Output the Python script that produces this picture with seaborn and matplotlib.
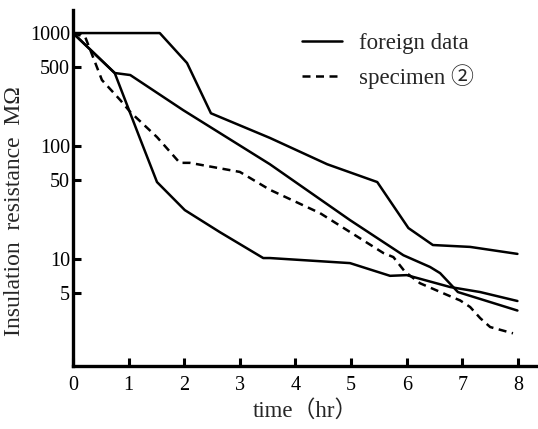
import numpy as np
import pandas as pd
import seaborn as sns
import matplotlib.pyplot as plt

# Curves (time in hr, resistance in MOhm)
foreign_a_time = [0, 1.56, 2.05, 2.48, 3.54, 4.57, 5.47, 6.03, 6.47, 7.14, 7.99]
foreign_a_res = [1000, 1000, 543, 195, 118, 69, 48, 18.8, 13.3, 12.8, 11.1]

foreign_b_time = [0, 0.75, 1.03, 1.98, 3.54, 4.98, 5.94, 6.42, 6.60, 6.92, 7.99]
foreign_b_res = [1000, 443, 425, 208, 69, 22.1, 10.8, 8.5, 7.5, 5.1, 3.5]

foreign_c_time = [0, 0.75, 1.20, 1.51, 2.01, 2.64, 3.42, 3.54, 4.98, 5.70, 6.0, 6.78, 7.32, 7.99]
foreign_c_res = [1000, 443, 118, 48, 27.1, 17.3, 10.2, 10.2, 9.2, 7.1, 7.2, 5.65, 5.1, 4.25]

specimen_time = [0, 0.22, 0.36, 0.52, 0.85, 1.03, 1.51, 1.92, 2.10, 3.0, 3.54, 4.44,
                 5.58, 5.76, 5.97, 6.24, 6.73, 6.96, 7.14, 7.32, 7.50, 7.91]
specimen_res = [1000, 922, 613, 384, 255, 200, 120, 71, 71, 59, 41, 25.5,
                11.3, 10.4, 7.7, 6.1, 4.8, 4.3, 3.76, 3.0, 2.5, 2.2]

x_ticks = [0, 1, 2, 3, 4, 5, 6, 7, 8]
y_ticks = [5, 10, 50, 100, 500, 1000]
y_tick_labels = ['5', '10', '50', '100', '500', '1000']

kind_foreign = 'foreign data'
kind_specimen = 'specimen ②'

# Build long table
frames = []
for name, t, r, kind in [
    ('a', foreign_a_time, foreign_a_res, kind_foreign),
    ('b', foreign_b_time, foreign_b_res, kind_foreign),
    ('c', foreign_c_time, foreign_c_res, kind_foreign),
    ('d', specimen_time, specimen_res, kind_specimen),
]:
    frames.append(pd.DataFrame({'time': t, 'res': r, 'curve': name, 'kind': kind}))
df = pd.concat(frames, ignore_index=True)

sns.set_style("white")
plt.rcParams['font.family'] = ['Liberation Serif', 'Noto Sans CJK SC', 'DejaVu Sans']

fig = plt.figure(figsize=(5.38, 4.29), dpi=100)
ax = fig.add_axes([73 / 538, 63 / 429, 1 - 73 / 538, (366 - 10) / 429])

sns.lineplot(
    data=df, x='time', y='res', units='curve', estimator=None,
    style='kind', dashes={kind_foreign: '', kind_specimen: (3.2, 2.2)},
    color='black', linewidth=1.8, sort=False, ax=ax
)

ax.set_yscale('log')
ax.set_xlim(0, 8.36)
ax.set_ylim(1.13, 1600)
ax.set_xticks(x_ticks)
ax.set_xticklabels([str(v) for v in x_ticks])
ax.set_yticks(y_ticks)
ax.set_yticklabels(y_tick_labels)
ax.minorticks_off()
ax.tick_params(bottom=True, left=True, direction='in', length=6, width=2.2,
               labelsize=14.5, colors='black')
ax.tick_params(axis='x', pad=7)
ax.tick_params(axis='y', pad=2)

for side in ['top', 'right']:
    ax.spines[side].set_visible(False)
for side in ['left', 'bottom']:
    ax.spines[side].set_linewidth(2.4)
    ax.spines[side].set_color('black')

ax.set_xlabel('time（hr）', fontsize=16.5, labelpad=4)
ax.set_ylabel('Insulation  resistance  MΩ', fontsize=17, labelpad=6)
ax.yaxis.set_label_coords(-48 / 465, (366 - 211) / 356)

handles, labels = ax.get_legend_handles_labels()
keep = [(h, l) for h, l in zip(handles, labels) if l in (kind_foreign, kind_specimen)]
ax.legend([h for h, _ in keep], [l for _, l in keep],
          loc='upper left', bbox_to_anchor=(302 / 538, 1 - 33 / 429),
          bbox_transform=fig.transFigure, frameon=False, fontsize=16.5,
          handlelength=1.75, handletextpad=0.75, labelspacing=0.45, borderpad=0,
          borderaxespad=0)

plt.savefig('out.png', dpi=100, facecolor='white')
plt.close()
